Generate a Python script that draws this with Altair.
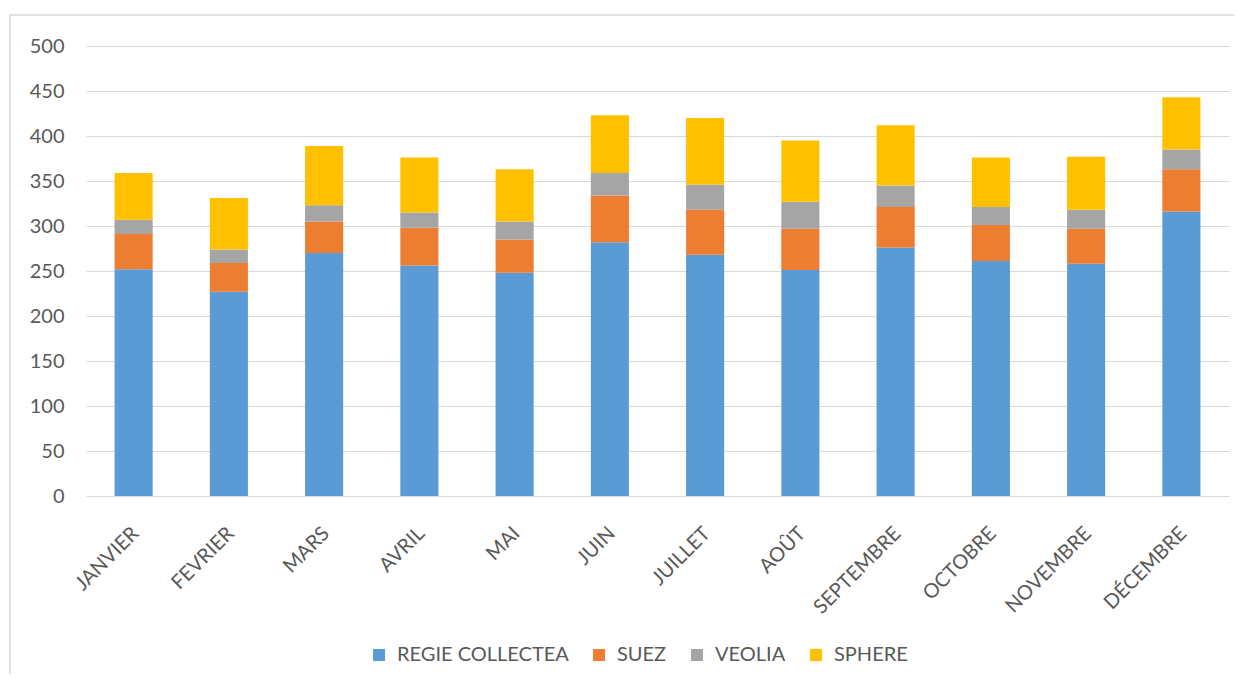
import altair as alt
import pandas as pd

months = ["JANVIER", "FEVRIER", "MARS", "AVRIL", "MAI", "JUIN", "JUILLET",
          "AOÛT", "SEPTEMBRE", "OCTOBRE", "NOVEMBRE", "DÉCEMBRE"]
series = ["REGIE COLLECTEA", "SUEZ", "VEOLIA", "SPHERE"]
colors = ["#5B9BD5", "#ED7D31", "#A5A5A5", "#FFC000"]

regie = [252, 227, 270, 256, 248, 282, 268, 251, 276, 261, 258, 316]
suez = [39, 32, 35, 42, 37, 52, 50, 46, 45, 40, 39, 47]
veolia = [16, 15, 18, 17, 20, 25, 28, 30, 24, 20, 21, 22]
sphere = [52, 57, 66, 61, 58, 64, 74, 68, 67, 55, 59, 58]

rows = []
for si, (name, vals) in enumerate(zip(series, [regie, suez, veolia, sphere])):
    for m, v in zip(months, vals):
        rows.append({"mois": m, "serie": name, "valeur": v, "ordre": si})
df = pd.DataFrame(rows)

TXT = "#595959"
GRID = "#D9D9D9"
FONT = "Lato"

bars = alt.Chart(df).mark_bar().encode(
    x=alt.X("mois:N", sort=months,
            scale=alt.Scale(paddingInner=0.6, paddingOuter=0.3),
            axis=alt.Axis(title=None, labelAngle=-45, labelAlign="right",
                          labelBaseline="top", labelPadding=27, labelOffset=-5,
                          ticks=False, domainColor=GRID, labelColor=TXT,
                          labelFontSize=20, labelFont=FONT)),
    y=alt.Y("valeur:Q", stack="zero",
            scale=alt.Scale(domain=[0, 500], nice=False),
            axis=alt.Axis(title=None, values=list(range(0, 501, 50)),
                          domain=False, ticks=False, gridColor=GRID,
                          labelColor=TXT, labelFontSize=20, labelFont=FONT,
                          labelPadding=22)),
    color=alt.Color("serie:N", sort=series,
                    scale=alt.Scale(domain=series, range=colors),
                    legend=alt.Legend(title=None, orient="none", direction="horizontal",
                                      legendX=283, legendY=599,
                                      symbolType="square", symbolSize=144,
                                      symbolStrokeWidth=0, labelLimit=400,
                                      labelFontSize=20, labelColor=TXT, labelFont=FONT,
                                      labelOffset=8, columnPadding=20)),
    order=alt.Order("ordre:Q", sort="ascending"),
)

frame = alt.Chart(pd.DataFrame({"k": [0]})).mark_rect(
    fill=None, stroke=GRID, strokeWidth=1.5
).encode(
    x=alt.value(-76), x2=alt.value(1200), y=alt.value(-31), y2=alt.value(700)
)

chart = alt.layer(frame, bars).properties(
    width=1143, height=450,
    background="white",
    autosize=alt.AutoSizeParams(type="none"),
    padding={"left": 78, "top": 38, "right": 5, "bottom": 178},
).configure_view(stroke=None)

chart.save("out.html", embed_options={"renderer": "svg", "actions": False})
